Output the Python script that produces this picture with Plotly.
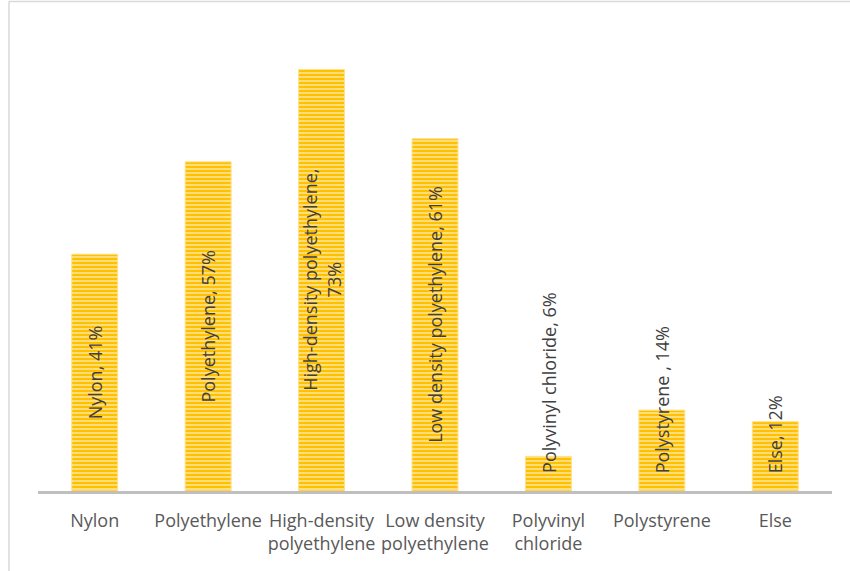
import plotly.graph_objects as go

# Share of samples by polymer type (%)
categories = [
    "Nylon",
    "Polyethylene",
    "High-density<br>polyethylene",
    "Low density<br>polyethylene",
    "Polyvinyl<br>chloride",
    "Polystyrene",
    "Else",
]
label_names = [
    "Nylon,",
    "Polyethylene,",
    "High-density polyethylene,<br>",
    "Low density polyethylene,",
    "Polyvinyl chloride,",
    "Polystyrene ,",
    "Else,",
]
shares = [41, 57, 73, 61, 6, 14, 12]

W, H = 850, 571
M_L, M_R, M_T, M_B = 38, 18, 29, 80
Y_MAX = 80
plot_h = H - M_T - M_B
px_per_unit = plot_h / Y_MAX

LABEL_FONT = dict(family="Open Sans", size=18, color="#404040")
CHAR_PX = 9.0          # rough advance per character of the in-bar labels
BASE_PAD_PX = 16       # minimum gap between a label and the axis

fig = go.Figure(
    go.Bar(
        x=categories,
        y=shares,
        marker=dict(
            color="#FFC000",
            line=dict(color="#FFE08A", width=1),
            pattern=dict(
                shape="-",
                fgcolor="#FFC000",
                bgcolor="#FFE699",
                size=4,
                solidity=0.6,
                fillmode="replace",
            ),
        ),
        hoverinfo="skip",
    )
)

# Rotated value labels: centred in the bar, pushed up when they would cross the axis
for cat, name, v in zip(categories, label_names, shares):
    text = f"{name} {v}%" if not name.endswith("<br>") else f"{name}{v}%"
    longest = max(len(part) for part in text.split("<br>"))
    est_len = longest * CHAR_PX
    centre_px = v * px_per_unit / 2
    if centre_px - est_len / 2 >= BASE_PAD_PX:
        fig.add_annotation(
            x=cat, y=v / 2, xref="x", yref="y",
            text=text, textangle=-90, showarrow=False,
            xanchor="center", yanchor="middle",
            font=LABEL_FONT,
        )
    else:
        fig.add_annotation(
            x=cat, y=0, xref="x", yref="y",
            text=text, textangle=-90, showarrow=False,
            xanchor="center", yanchor="bottom", yshift=BASE_PAD_PX,
            font=LABEL_FONT,
        )

# Thin chart frame on the left and top edges
plot_w = W - M_L - M_R
fx0 = (9 - M_L) / plot_w
fy1 = (H - 1.5 - M_B) / plot_h
fig.add_shape(type="line", xref="paper", yref="paper",
              x0=fx0, x1=fx0, y0=-M_B / plot_h, y1=fy1,
              line=dict(color="#D9D9D9", width=1.5))
fig.add_shape(type="line", xref="paper", yref="paper",
              x0=fx0, x1=(W - M_L) / plot_w, y0=fy1, y1=fy1,
              line=dict(color="#D9D9D9", width=1.5))

fig.update_layout(
    width=W, height=H,
    margin=dict(l=M_L, r=M_R, t=M_T, b=M_B, pad=0),
    paper_bgcolor="white",
    plot_bgcolor="white",
    bargap=0.595,
    showlegend=False,
    font=dict(family="Open Sans"),
    xaxis=dict(
        showline=True, linecolor="#BFBFBF", linewidth=3,
        showgrid=False, ticks="",
        tickfont=dict(family="Open Sans", size=18, color="#595959"),
        ticklabelstandoff=11,
    ),
    yaxis=dict(
        range=[0, Y_MAX], visible=False, showgrid=False, zeroline=False,
    ),
)

fig.write_html("out.html")
